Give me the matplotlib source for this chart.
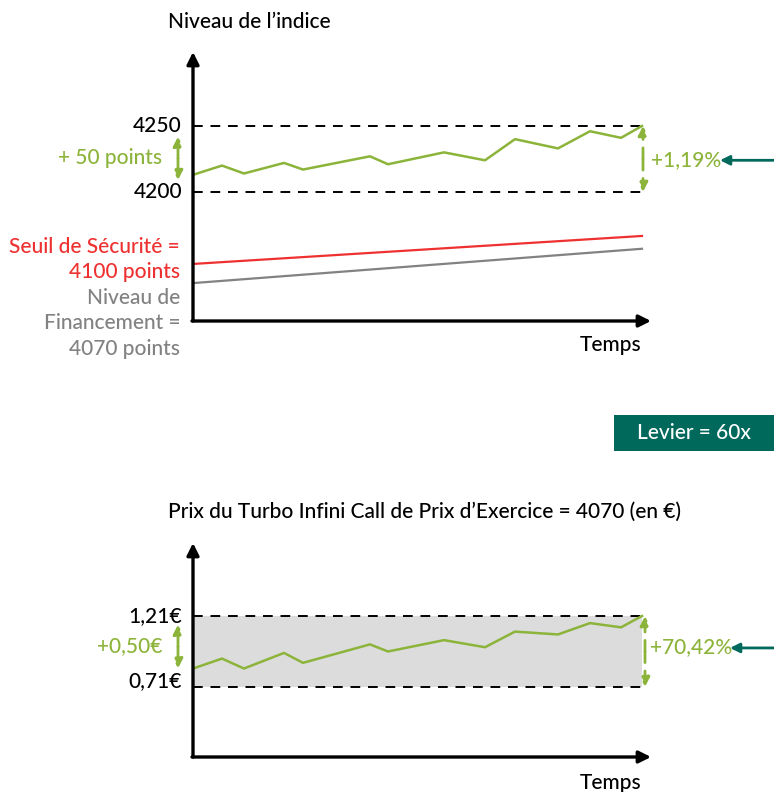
import numpy as np
import matplotlib.pyplot as plt

plt.rcParams['font.family'] = ['Lato', 'DejaVu Sans']
plt.rcParams['font.weight'] = 'medium'

W, H = 774, 792

# time axis (arbitrary units, shared by both panels)
temps = [0, 29, 51, 91, 110, 177, 195, 251, 292, 322, 365, 397, 428, 449]

# index level (points)
indice = [4213, 4220, 4214, 4222, 4217, 4227, 4221, 4230, 4224, 4240, 4233, 4246, 4241, 4250]
seuil = [4145.5, 4166.7]        # safety threshold, start / end
financement = [4131, 4157]      # financing level, start / end
niveaux_indice = [4200, 4250]

# turbo price (EUR)
prix = [0.84, 0.91, 0.84, 0.95, 0.88, 1.01, 0.96, 1.04, 0.99, 1.10, 1.08, 1.16, 1.13, 1.21]
niveaux_prix = [0.71, 1.21]

GREEN = '#8cb43a'
RED = '#ee3130'
GREY = '#828282'
TEAL = '#00695c'


def fx(x):
    return x / W


def fy(y):
    return 1 - y / H


fig = plt.figure(figsize=(W / 100, H / 100), dpi=100)

# ---------------- top panel ----------------
ax1 = fig.add_axes([fx(193), fy(321), 458 / W, (321 - 52) / H])
ax1.set_xlim(0, 458)
ax1.set_ylim(4102.3, 4306)
ax1.axis('off')

for lvl in niveaux_indice:
    ax1.plot([0, temps[-1]], [lvl, lvl], color='black', lw=1.4, ls=(0, (5, 4)))

ax1.plot([temps[0], temps[-1]], seuil, color=RED, lw=1.6)
ax1.plot([temps[0], temps[-1]], financement, color=GREY, lw=1.6)
ax1.plot(temps, indice, color=GREEN, lw=1.8)

# axes arrows
axis_arrow = dict(arrowstyle='-|>', color='black', lw=2.4, mutation_scale=18, shrinkA=0, shrinkB=0)
ax1.annotate('', xy=(0, 4306), xytext=(0, 4102.3), annotation_clip=False, arrowprops=axis_arrow)
ax1.annotate('', xy=(458, 4102.3), xytext=(-1, 4102.3), annotation_clip=False, arrowprops=axis_arrow)


def double_arrow(ax, x, lo, hi):
    mid = (lo + hi) / 2
    for end in (lo, hi):
        ax.annotate('', xy=(x, end), xytext=(x, mid), annotation_clip=False,
                    arrowprops=dict(arrowstyle='-|>', color=GREEN, lw=2, ls=(0, (4, 3)),
                                    mutation_scale=14, shrinkA=0, shrinkB=0))


double_arrow(ax1, -15, 4209, 4242)
double_arrow(ax1, 450, 4200, 4250)

ax1.annotate('', xy=(527, 4224), xytext=(582, 4224), annotation_clip=False,
             arrowprops=dict(arrowstyle='-|>', color=TEAL, lw=2, mutation_scale=14, shrinkA=0, shrinkB=0))

fs = 15
for lvl in niveaux_indice:
    ax1.text(-11, lvl, str(lvl), ha='right', va='center', fontsize=fs, color='black', clip_on=False)

# ---------------- bottom panel ----------------
ax2 = fig.add_axes([fx(193), fy(757), 458 / W, (757 - 543) / H])
ax2.set_xlim(0, 458)
ax2.set_ylim(0.217, 1.724)
ax2.axis('off')

ax2.fill_between([0, temps[-1]], niveaux_prix[0], niveaux_prix[1], color='#dcdcdc', lw=0)
for lvl in niveaux_prix:
    ax2.plot([0, temps[-1]], [lvl, lvl], color='black', lw=1.4, ls=(0, (5, 4)))
ax2.plot(temps, prix, color=GREEN, lw=1.8)

ax2.annotate('', xy=(0, 1.724), xytext=(0, 0.217), annotation_clip=False, arrowprops=axis_arrow)
ax2.annotate('', xy=(458, 0.217), xytext=(-1, 0.217), annotation_clip=False, arrowprops=axis_arrow)

double_arrow(ax2, -15, 0.84, 1.15)
double_arrow(ax2, 452, 0.71, 1.21)

ax2.annotate('', xy=(537, 0.985), xytext=(582, 0.985), annotation_clip=False,
             arrowprops=dict(arrowstyle='-|>', color=TEAL, lw=2, mutation_scale=14, shrinkA=0, shrinkB=0))

ax2.text(-11, 1.21, '1,21€', ha='right', va='center', fontsize=fs, clip_on=False)
ax2.text(-11, 0.755, '0,71€', ha='right', va='center', fontsize=fs, clip_on=False)

# ---------------- texts ----------------
fig.text(fx(168), fy(22), 'Niveau de l’indice', ha='left', va='center', fontsize=fs)
fig.text(fx(162), fy(158), '+ 50 points', ha='right', va='center', fontsize=fs, color=GREEN)
fig.text(fx(651), fy(160), '+1,19%', ha='left', va='center', fontsize=fs, color=GREEN)
fig.text(fx(180), fy(247), 'Seuil de Sécurité =', ha='right', va='center', fontsize=fs, color=RED)
fig.text(fx(180), fy(272), '4100 points', ha='right', va='center', fontsize=fs, color=RED)
fig.text(fx(180), fy(298), 'Niveau de', ha='right', va='center', fontsize=fs, color=GREY)
fig.text(fx(180), fy(323), 'Financement =', ha='right', va='center', fontsize=fs, color=GREY)
fig.text(fx(180), fy(349), '4070 points', ha='right', va='center', fontsize=fs, color=GREY)
fig.text(fx(641), fy(345), 'Temps', ha='right', va='center', fontsize=fs)

fig.patches.append(plt.Rectangle((fx(614), fy(451)), 160 / W, 36 / H, transform=fig.transFigure,
                                 color=TEAL, lw=0))
fig.text(fx(694), fy(433), 'Levier = 60x', ha='center', va='center', fontsize=fs, color='white')

fig.text(fx(168), fy(512), 'Prix du Turbo Infini Call de Prix d’Exercice = 4070 (en €)',
         ha='left', va='center', fontsize=fs)
fig.text(fx(162), fy(646), '+0,50€', ha='right', va='center', fontsize=fs, color=GREEN)
fig.text(fx(650), fy(647), '+70,42%', ha='left', va='center', fontsize=fs, color=GREEN)
fig.text(fx(641), fy(783), 'Temps', ha='right', va='center', fontsize=fs)

fig.savefig('out.png', dpi=100)
